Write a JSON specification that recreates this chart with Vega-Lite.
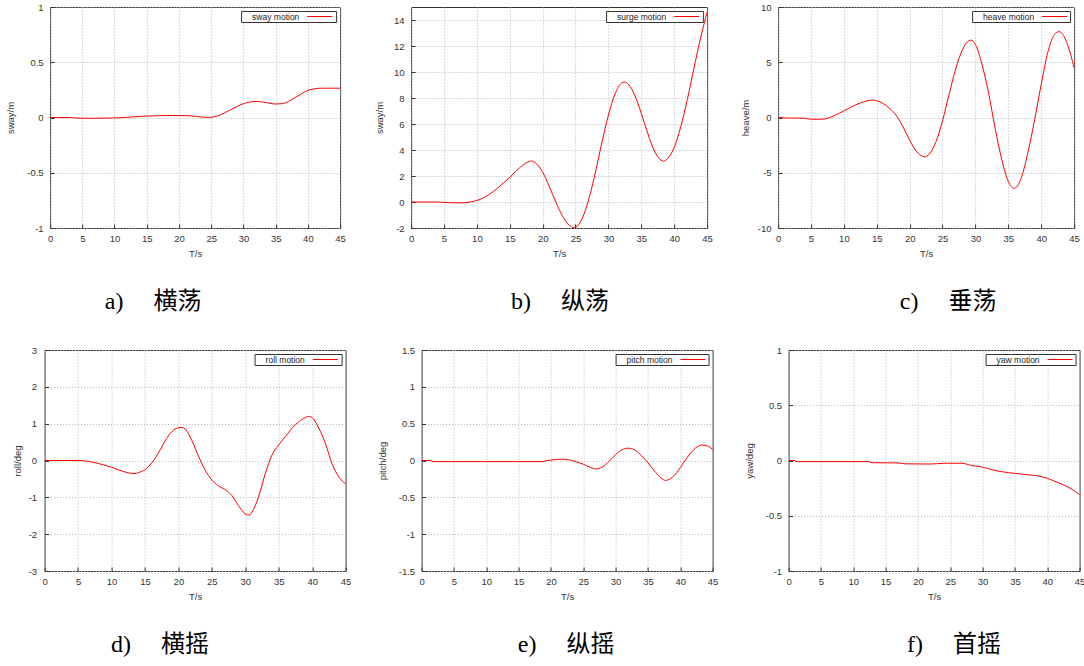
{
  "$schema": "https://vega.github.io/schema/vega-lite/v6.json",
  "padding": {"left": 4.5, "top": 1, "right": 0, "bottom": 0},
  "background": "white",
  "config": {
    "font": "Liberation Sans",
    "view": {"stroke": "#333333", "strokeWidth": 1},
    "axis": {"grid": true, "gridColor": "#b4b4b4", "gridDash": [1, 2], "gridWidth": 1, "domain": false,
      "ticks": true, "tickSize": -4, "tickColor": "#333333", "tickWidth": 1,
      "labelFontSize": 9.5, "labelColor": "#333333", "labelFont": "Liberation Sans", "labelPadding": 11,
      "labelFlush": false, "labelOverlap": false, "labelBound": false,
      "titleFontSize": 9.5, "titleFontWeight": "normal", "titleColor": "#333333", "titleFont": "Liberation Sans",
      "labelExpr": "'' + datum.value"},
    "axisX": {"titlePadding": 6, "labelPadding": 9},
    "legend": {"orient": "top-right", "offset": 4, "strokeColor": "#333333", "fillColor": "white", "padding": 1,
      "symbolSize": 64, "symbolStrokeWidth": 1, "symbolStrokeColor": "#ff0000", "symbolFillColor": "transparent",
      "labelFontSize": 8.5, "labelColor": "#222222", "labelFont": "Liberation Sans", "labelOffset": 1},
    "title": {"orient": "bottom", "frame": "group", "anchor": "middle", "font": "Liberation Serif, Noto Sans CJK SC",
      "fontSize": 24, "fontWeight": "normal", "color": "#000000", "offset": 32}
  },
  "datasets": {
    "sway": [
      {"t":0,"v":0},{"t":1,"v":0},{"t":2,"v":0},{"t":3,"v":0},{"t":4,"v":-0.005},{"t":5,"v":-0.006},{"t":6,"v":-0.007},{"t":7,"v":-0.007},{"t":8,"v":-0.006},{"t":9,"v":-0.005},{"t":10,"v":-0.004},{"t":11,"v":-0.002},{"t":12,"v":0.002},{"t":13,"v":0.006},{"t":14,"v":0.01},{"t":15,"v":0.013},{"t":16,"v":0.015},{"t":17,"v":0.017},{"t":18,"v":0.018},{"t":19,"v":0.018},{"t":20,"v":0.018},{"t":21,"v":0.017},{"t":22,"v":0.014},{"t":23,"v":0.008},{"t":24,"v":0.002},{"t":25,"v":0.002},{"t":26,"v":0.015},{"t":27,"v":0.04},{"t":28,"v":0.07},{"t":29,"v":0.1},{"t":30,"v":0.125},{"t":31,"v":0.14},{"t":32,"v":0.145},{"t":33,"v":0.14},{"t":34,"v":0.13},{"t":35,"v":0.122},{"t":36,"v":0.125},{"t":37,"v":0.145},{"t":38,"v":0.18},{"t":39,"v":0.215},{"t":40,"v":0.245},{"t":41,"v":0.26},{"t":42,"v":0.265},{"t":43,"v":0.265},{"t":44,"v":0.265},{"t":45,"v":0.265}
    ],
    "surge": [
      {"t":0,"v":0},{"t":1,"v":0},{"t":2,"v":0},{"t":3,"v":0},{"t":4,"v":0},{"t":5,"v":-0.03},{"t":6,"v":-0.05},{"t":7,"v":-0.07},{"t":8,"v":-0.06},{"t":9,"v":0},{"t":10,"v":0.12},{"t":11,"v":0.32},{"t":12,"v":0.63},{"t":13,"v":1.0},{"t":14,"v":1.45},{"t":15,"v":1.9},{"t":16,"v":2.4},{"t":17,"v":2.85},{"t":18,"v":3.12},{"t":18.3,"v":3.15},{"t":19,"v":2.97},{"t":20,"v":2.3},{"t":21,"v":1.2},{"t":22,"v":0.0},{"t":23,"v":-1.06},{"t":24,"v":-1.77},{"t":24.8,"v":-1.97},{"t":25,"v":-1.94},{"t":26,"v":-1.28},{"t":27,"v":0.2},{"t":28,"v":2.24},{"t":29,"v":4.56},{"t":30,"v":6.69},{"t":31,"v":8.3},{"t":32,"v":9.15},{"t":32.4,"v":9.22},{"t":33,"v":9.07},{"t":34,"v":8.21},{"t":35,"v":6.81},{"t":36,"v":5.24},{"t":37,"v":3.92},{"t":38,"v":3.21},{"t":38.4,"v":3.14},{"t":39,"v":3.35},{"t":40,"v":4.2},{"t":41,"v":5.8},{"t":42,"v":7.9},{"t":43,"v":10.3},{"t":44,"v":12.6},{"t":45,"v":14.6}
    ],
    "heave": [
      {"t":0,"v":0},{"t":1,"v":-0.03},{"t":2,"v":-0.05},{"t":3,"v":-0.05},{"t":4,"v":-0.07},{"t":5,"v":-0.15},{"t":6,"v":-0.16},{"t":7,"v":-0.14},{"t":8,"v":0.03},{"t":9,"v":0.3},{"t":10,"v":0.6},{"t":11,"v":0.9},{"t":12,"v":1.2},{"t":13,"v":1.42},{"t":14,"v":1.56},{"t":14.5,"v":1.58},{"t":15,"v":1.52},{"t":16,"v":1.25},{"t":17,"v":0.8},{"t":18,"v":0.15},{"t":19,"v":-0.85},{"t":20,"v":-2.05},{"t":21,"v":-3.05},{"t":22,"v":-3.52},{"t":22.3,"v":-3.57},{"t":23,"v":-3.3},{"t":24,"v":-2.2},{"t":25,"v":-0.3},{"t":26,"v":2.1},{"t":27,"v":4.4},{"t":28,"v":6.1},{"t":29,"v":6.95},{"t":29.3,"v":7.0},{"t":30,"v":6.6},{"t":31,"v":4.8},{"t":32,"v":2.2},{"t":33,"v":-1.0},{"t":34,"v":-3.8},{"t":35,"v":-5.8},{"t":35.9,"v":-6.41},{"t":36,"v":-6.4},{"t":37,"v":-5.4},{"t":38,"v":-3.1},{"t":39,"v":-0.2},{"t":40,"v":3.0},{"t":41,"v":5.9},{"t":42,"v":7.5},{"t":42.7,"v":7.77},{"t":43,"v":7.7},{"t":44,"v":6.6},{"t":45,"v":4.5}
    ],
    "roll": [
      {"t":0,"v":0},{"t":5,"v":0},{"t":6,"v":-0.01},{"t":7,"v":-0.04},{"t":8,"v":-0.08},{"t":9,"v":-0.13},{"t":10,"v":-0.18},{"t":11,"v":-0.25},{"t":12,"v":-0.31},{"t":13,"v":-0.35},{"t":13.5,"v":-0.355},{"t":14,"v":-0.33},{"t":15,"v":-0.25},{"t":16,"v":-0.07},{"t":17,"v":0.2},{"t":18,"v":0.53},{"t":19,"v":0.78},{"t":20,"v":0.89},{"t":20.5,"v":0.9},{"t":21,"v":0.86},{"t":22,"v":0.55},{"t":23,"v":0.12},{"t":24,"v":-0.26},{"t":25,"v":-0.53},{"t":26,"v":-0.69},{"t":27,"v":-0.79},{"t":28,"v":-0.95},{"t":29,"v":-1.23},{"t":30,"v":-1.45},{"t":30.6,"v":-1.48},{"t":31,"v":-1.4},{"t":32,"v":-0.98},{"t":33,"v":-0.35},{"t":34,"v":0.15},{"t":35,"v":0.42},{"t":36,"v":0.65},{"t":37,"v":0.88},{"t":38,"v":1.05},{"t":39,"v":1.17},{"t":39.6,"v":1.2},{"t":40,"v":1.16},{"t":41,"v":0.88},{"t":42,"v":0.45},{"t":43,"v":-0.1},{"t":44,"v":-0.45},{"t":45,"v":-0.63}
    ],
    "pitch": [
      {"t":0,"v":0},{"t":1.5,"v":0},{"t":1.6,"v":-0.015},{"t":5,"v":-0.015},{"t":10,"v":-0.015},{"t":15,"v":-0.015},{"t":19,"v":-0.015},{"t":19.1,"v":-0.005},{"t":20,"v":0.005},{"t":21,"v":0.015},{"t":22,"v":0.018},{"t":23,"v":0.005},{"t":24,"v":-0.02},{"t":25,"v":-0.05},{"t":26,"v":-0.09},{"t":27,"v":-0.115},{"t":27.9,"v":-0.09},{"t":29,"v":-0.01},{"t":30,"v":0.08},{"t":31,"v":0.145},{"t":32,"v":0.167},{"t":33,"v":0.14},{"t":34,"v":0.065},{"t":35,"v":-0.03},{"t":36,"v":-0.14},{"t":37,"v":-0.235},{"t":37.7,"v":-0.27},{"t":38.5,"v":-0.245},{"t":39.5,"v":-0.16},{"t":40.5,"v":-0.03},{"t":41.5,"v":0.09},{"t":42.6,"v":0.185},{"t":43.5,"v":0.21},{"t":44.4,"v":0.19},{"t":45,"v":0.15}
    ],
    "yaw": [
      {"t":0,"v":0},{"t":1,"v":0},{"t":1.1,"v":-0.01},{"t":12.5,"v":-0.01},{"t":12.6,"v":-0.02},{"t":17,"v":-0.022},{"t":18,"v":-0.03},{"t":22,"v":-0.032},{"t":24,"v":-0.025},{"t":26.8,"v":-0.025},{"t":28.3,"v":-0.045},{"t":30,"v":-0.06},{"t":31.9,"v":-0.09},{"t":34,"v":-0.11},{"t":35.6,"v":-0.12},{"t":37.1,"v":-0.13},{"t":38.6,"v":-0.14},{"t":40,"v":-0.16},{"t":41.2,"v":-0.19},{"t":42.5,"v":-0.22},{"t":43.8,"v":-0.26},{"t":45,"v":-0.31}
    ]
  },
  "spacing": 29,
  "center": true,
  "resolve": {"scale": {"x": "independent", "y": "independent", "color": "independent"}, "legend": {"color": "independent"}},
  "vconcat": [
    {
      "spacing": 71,
      "bounds": "flush",
      "resolve": {"scale": {"x": "independent", "y": "independent", "color": "independent"}, "legend": {"color": "independent"}},
      "hconcat": [
        {
          "width": 290, "height": 221,
          "data": {"name": "sway"},
          "mark": {"type": "line", "strokeWidth": 1, "interpolate": "monotone"},
          "encoding": {
            "x": {"field": "t", "type": "quantitative", "scale": {"domain": [0, 45], "nice": false}, "axis": {"title": "T/s", "values": [0,5,10,15,20,25,30,35,40,45]}},
            "y": {"field": "v", "type": "quantitative", "scale": {"domain": [-1, 1], "nice": false, "zero": false}, "axis": {"title": "sway/m", "values": [-1,-0.5,0,0.5,1], "titlePadding": 11}},
            "color": {"datum": "sway motion", "scale": {"range": ["#ff0000"]}, "legend": {"title": null, "symbolType": "M15.175,0H21.425"}}
          },
          "title": {"text": "a)\u3000 横荡", "dx": -42}
        },
        {
          "width": 296, "height": 221,
          "data": {"name": "surge"},
          "mark": {"type": "line", "strokeWidth": 1, "interpolate": "monotone"},
          "encoding": {
            "x": {"field": "t", "type": "quantitative", "scale": {"domain": [0, 45], "nice": false}, "axis": {"title": "T/s", "values": [0,5,10,15,20,25,30,35,40,45]}},
            "y": {"field": "v", "type": "quantitative", "scale": {"domain": [-2, 15], "nice": false, "zero": false}, "axis": {"title": "sway/m", "values": [-2,0,2,4,6,8,10,12,14], "titlePadding": 9}},
            "color": {"datum": "surge motion", "scale": {"range": ["#ff0000"]}, "legend": {"title": null, "symbolType": "M15.65,0H21.9"}}
          },
          "title": {"text": "b)\u3000 纵荡", "dx": 1}
        },
        {
          "width": 296, "height": 221,
          "data": {"name": "heave"},
          "mark": {"type": "line", "strokeWidth": 1, "interpolate": "monotone"},
          "encoding": {
            "x": {"field": "t", "type": "quantitative", "scale": {"domain": [0, 45], "nice": false}, "axis": {"title": "T/s", "values": [0,5,10,15,20,25,30,35,40,45]}},
            "y": {"field": "v", "type": "quantitative", "scale": {"domain": [-10, 10], "nice": false, "zero": false}, "axis": {"title": "heave/m", "values": [-10,-5,0,5,10], "titlePadding": 6.5}},
            "color": {"datum": "heave motion", "scale": {"range": ["#ff0000"]}, "legend": {"title": null, "symbolType": "M16.125,0H22.375"}}
          },
          "title": {"text": "c)\u3000 垂荡", "dx": 22}
        }
      ]
    },
    {
      "spacing": 76,
      "bounds": "flush",
      "resolve": {"scale": {"x": "independent", "y": "independent", "color": "independent"}, "legend": {"color": "independent"}},
      "hconcat": [
        {
          "width": 301, "height": 221,
          "data": {"name": "roll"},
          "mark": {"type": "line", "strokeWidth": 1, "interpolate": "monotone"},
          "encoding": {
            "x": {"field": "t", "type": "quantitative", "scale": {"domain": [0, 45], "nice": false}, "axis": {"title": "T/s", "values": [0,5,10,15,20,25,30,35,40,45]}},
            "y": {"field": "v", "type": "quantitative", "scale": {"domain": [-3, 3], "nice": false, "zero": false}, "axis": {"title": "roll/deg", "values": [-3,-2,-1,0,1,2,3], "titlePadding": 6, "labelPadding": 12}},
            "color": {"datum": "roll motion", "scale": {"range": ["#ff0000"]}, "legend": {"title": null, "symbolType": "M13.175,0H19.425"}}
          },
          "title": {"text": "d)\u3000 横摇", "dx": -35}
        },
        {
          "width": 291, "height": 221,
          "data": {"name": "pitch"},
          "mark": {"type": "line", "strokeWidth": 1, "interpolate": "monotone"},
          "encoding": {
            "x": {"field": "t", "type": "quantitative", "scale": {"domain": [0, 45], "nice": false}, "axis": {"title": "T/s", "values": [0,5,10,15,20,25,30,35,40,45]}},
            "y": {"field": "v", "type": "quantitative", "scale": {"domain": [-1.5, 1.5], "nice": false, "zero": false}, "axis": {"title": "pitch/deg", "values": [-1.5,-1,-0.5,0,0.5,1,1.5], "titlePadding": 11}},
            "color": {"datum": "pitch motion", "scale": {"range": ["#ff0000"]}, "legend": {"title": null, "symbolType": "M14.825,0H21.075"}}
          },
          "title": {"text": "e)\u3000 纵摇", "dx": -1}
        },
        {
          "width": 291, "height": 221,
          "data": {"name": "yaw"},
          "mark": {"type": "line", "strokeWidth": 1, "interpolate": "monotone"},
          "encoding": {
            "x": {"field": "t", "type": "quantitative", "scale": {"domain": [0, 45], "nice": false}, "axis": {"title": "T/s", "values": [0,5,10,15,20,25,30,35,40,45]}},
            "y": {"field": "v", "type": "quantitative", "scale": {"domain": [-1, 1], "nice": false, "zero": false}, "axis": {"title": "yaw/deg", "values": [-1,-0.5,0,0.5,1], "titlePadding": 11}},
            "color": {"datum": "yaw motion", "scale": {"range": ["#ff0000"]}, "legend": {"title": null, "symbolType": "M14.125,0H20.375"}}
          },
          "title": {"text": "f)\u3000 首摇", "dx": 20}
        }
      ]
    }
  ]
}
